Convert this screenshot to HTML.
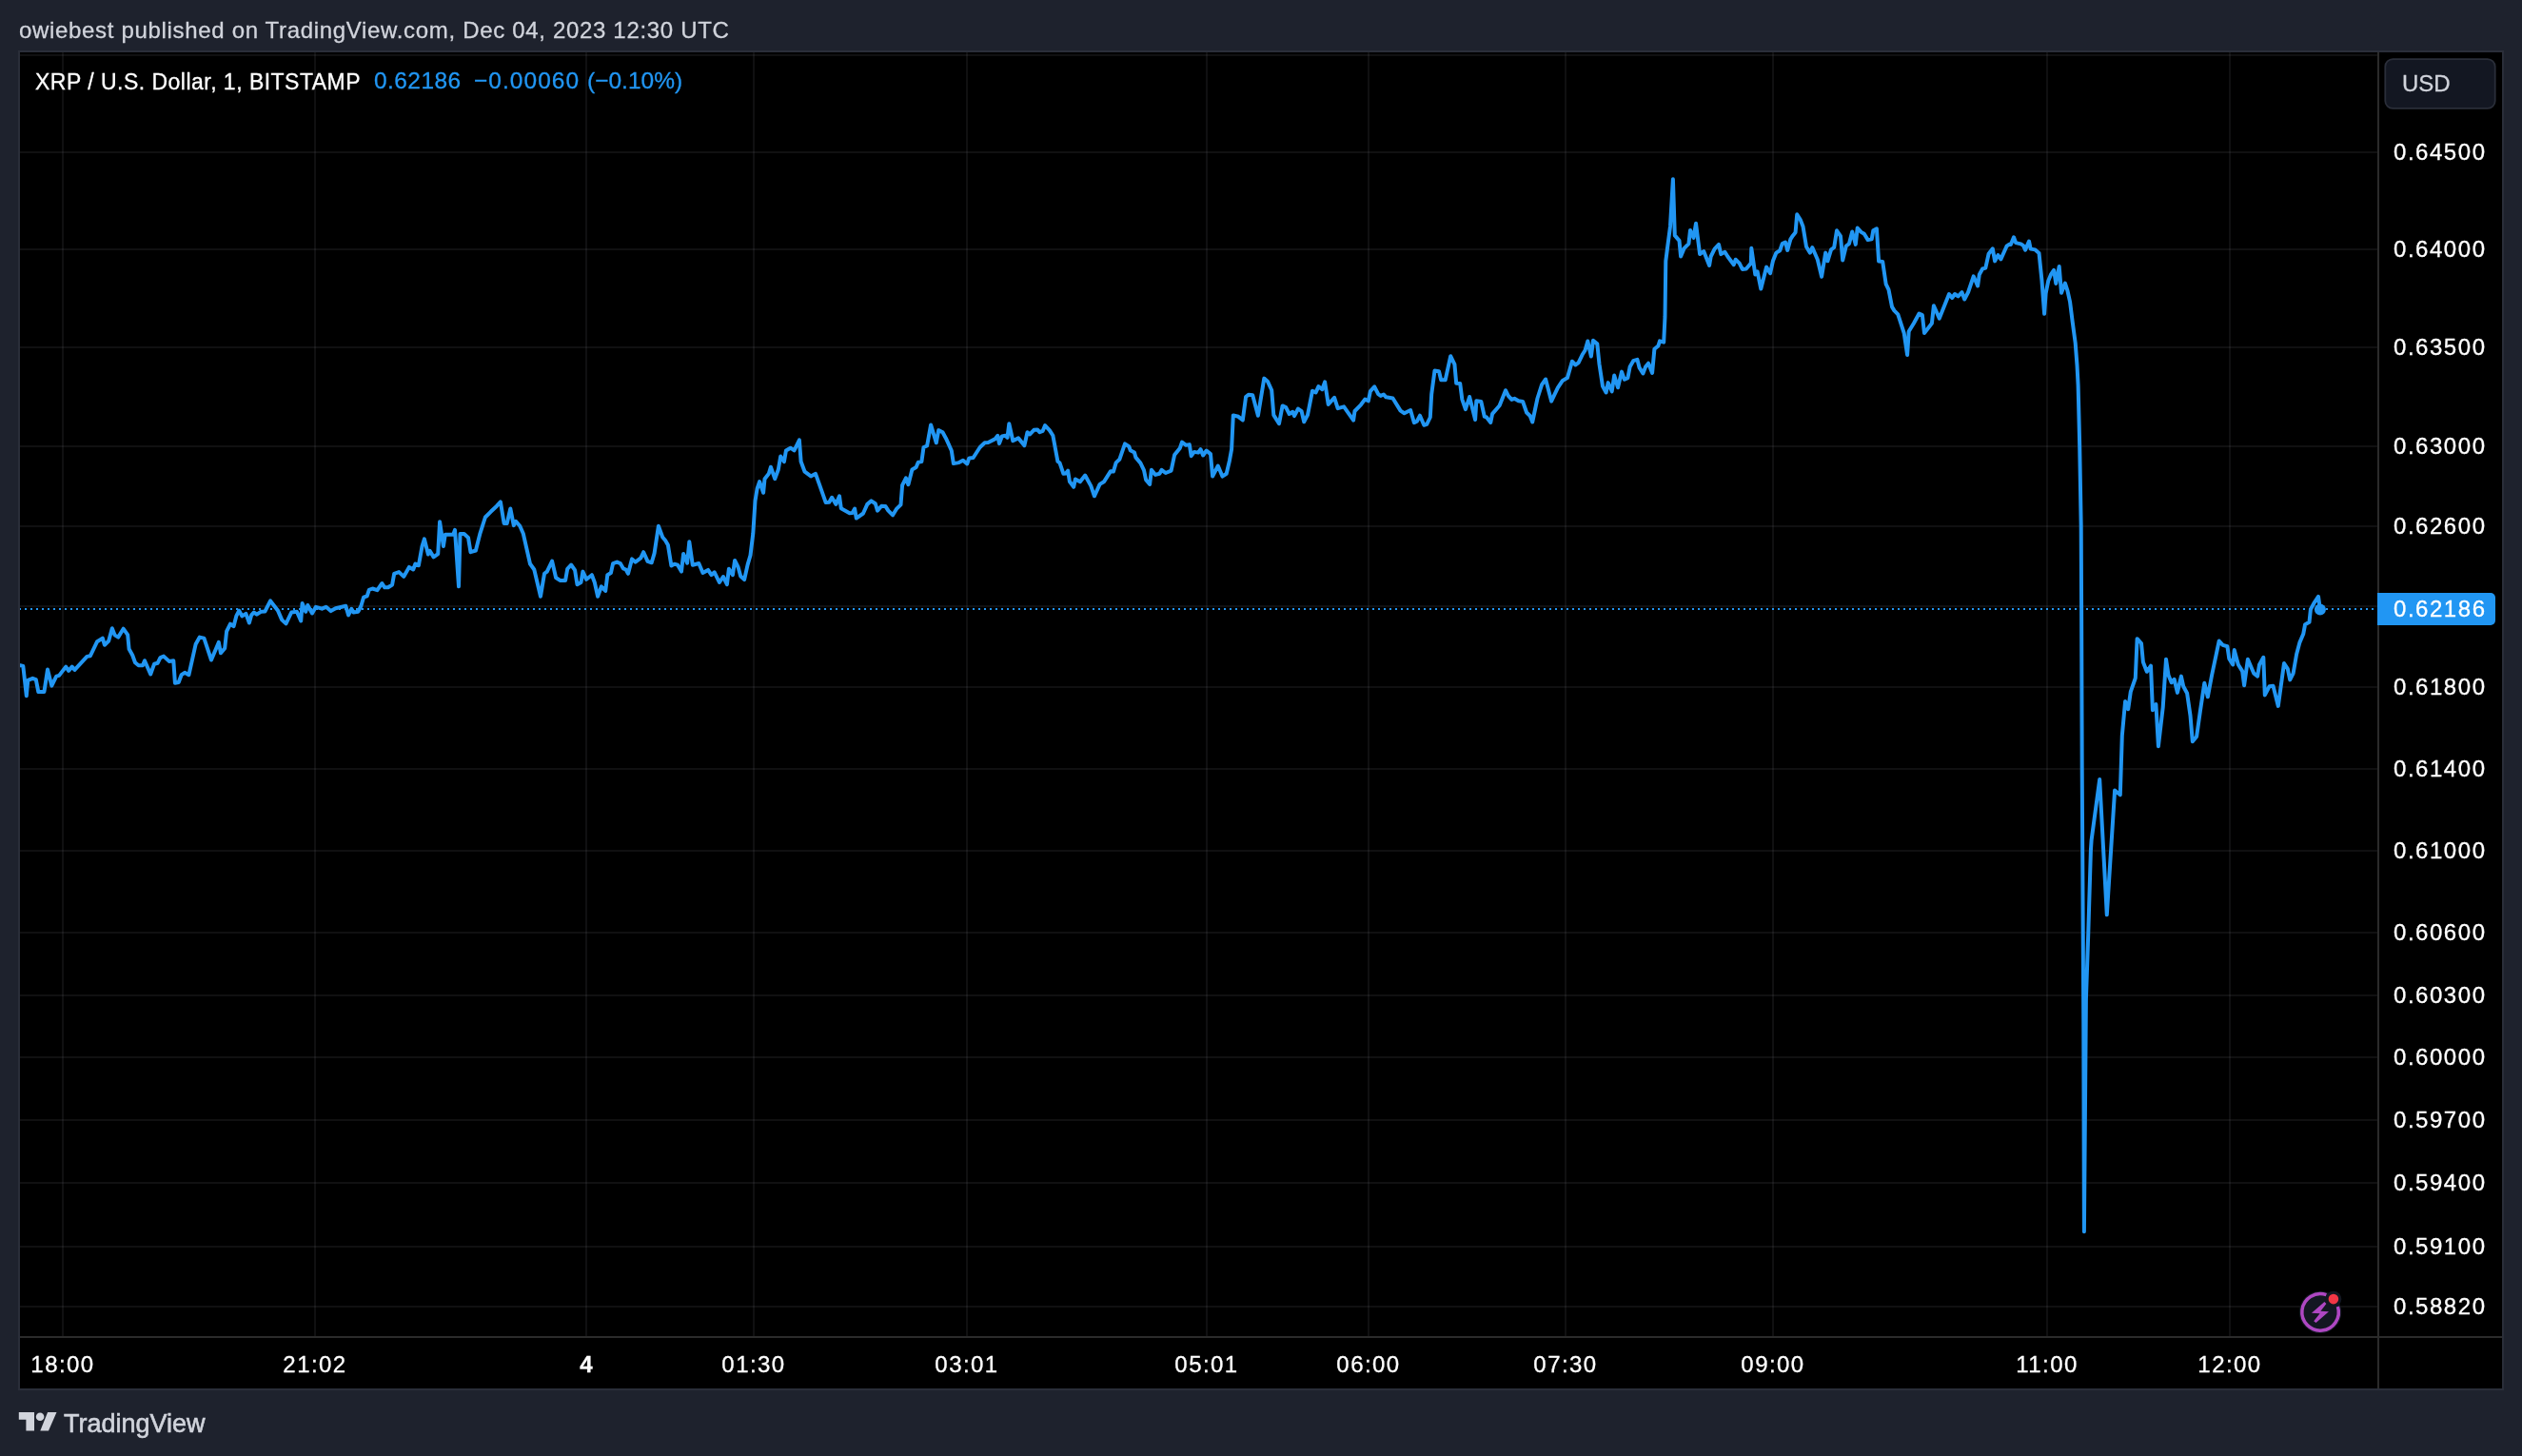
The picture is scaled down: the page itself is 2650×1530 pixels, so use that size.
<!DOCTYPE html><html><head><meta charset="utf-8"><title>XRP / U.S. Dollar</title><style>
html,body{margin:0;padding:0}body{width:2650px;height:1530px;background:#1e222d;position:relative;overflow:hidden;font-family:"Liberation Sans",sans-serif}
.t{position:absolute;white-space:nowrap;line-height:1;will-change:transform;-webkit-text-stroke:0.3px currentColor;}
</style></head><body>
<svg width="2650" height="1530" viewBox="0 0 2650 1530" style="position:absolute;left:0;top:0">
<rect x="20" y="54" width="2610" height="1406" fill="#000"/>
<rect x="21" y="159" width="2477" height="2" fill="rgba(240,243,250,0.065)"/>
<rect x="21" y="261" width="2477" height="2" fill="rgba(240,243,250,0.065)"/>
<rect x="21" y="364" width="2477" height="2" fill="rgba(240,243,250,0.065)"/>
<rect x="21" y="468" width="2477" height="2" fill="rgba(240,243,250,0.065)"/>
<rect x="21" y="552" width="2477" height="2" fill="rgba(240,243,250,0.065)"/>
<rect x="21" y="721" width="2477" height="2" fill="rgba(240,243,250,0.065)"/>
<rect x="21" y="807" width="2477" height="2" fill="rgba(240,243,250,0.065)"/>
<rect x="21" y="893" width="2477" height="2" fill="rgba(240,243,250,0.065)"/>
<rect x="21" y="979" width="2477" height="2" fill="rgba(240,243,250,0.065)"/>
<rect x="21" y="1045" width="2477" height="2" fill="rgba(240,243,250,0.065)"/>
<rect x="21" y="1110" width="2477" height="2" fill="rgba(240,243,250,0.065)"/>
<rect x="21" y="1176" width="2477" height="2" fill="rgba(240,243,250,0.065)"/>
<rect x="21" y="1242" width="2477" height="2" fill="rgba(240,243,250,0.065)"/>
<rect x="21" y="1309" width="2477" height="2" fill="rgba(240,243,250,0.065)"/>
<rect x="21" y="1372" width="2477" height="2" fill="rgba(240,243,250,0.065)"/>
<rect x="21" y="636" width="2477" height="2" fill="rgba(240,243,250,0.065)"/>
<rect x="21" y="57" width="2477" height="2" fill="rgba(240,243,250,0.065)"/>
<rect x="65" y="55" width="2" height="1349" fill="rgba(240,243,250,0.065)"/>
<rect x="330" y="55" width="2" height="1349" fill="rgba(240,243,250,0.065)"/>
<rect x="615" y="55" width="2" height="1349" fill="rgba(240,243,250,0.065)"/>
<rect x="791" y="55" width="2" height="1349" fill="rgba(240,243,250,0.065)"/>
<rect x="1015" y="55" width="2" height="1349" fill="rgba(240,243,250,0.065)"/>
<rect x="1267" y="55" width="2" height="1349" fill="rgba(240,243,250,0.065)"/>
<rect x="1437" y="55" width="2" height="1349" fill="rgba(240,243,250,0.065)"/>
<rect x="1644" y="55" width="2" height="1349" fill="rgba(240,243,250,0.065)"/>
<rect x="1862" y="55" width="2" height="1349" fill="rgba(240,243,250,0.065)"/>
<rect x="2150" y="55" width="2" height="1349" fill="rgba(240,243,250,0.065)"/>
<rect x="2342" y="55" width="2" height="1349" fill="rgba(240,243,250,0.065)"/>
<rect x="20" y="54" width="2610" height="1406" fill="none" stroke="#2a2e39" stroke-width="2"/>
<rect x="2498" y="55" width="2" height="1404" fill="#2b2b2b"/>
<rect x="21" y="1404" width="2608" height="2" fill="#2b2b2b"/>
<clipPath id="cp0"><rect x="21" y="55" width="2477" height="1349"/></clipPath>
<line x1="20" y1="640" x2="2496" y2="640" stroke="#2196f3" stroke-width="2" stroke-dasharray="2 4" clip-path="url(#cp0)"/>
<clipPath id="cp"><rect x="21" y="55" width="2477" height="1349"/></clipPath>
<path d="M21.4 699.2 L24.3 699.9 L27.8 731.3 L29.3 714.9 L34.3 712.8 L37.8 714.2 L40.3 727.0 L46.4 727.0 L50.0 703.5 L54.3 720.6 L59.2 710.6 L62.1 709.9 L69.2 700.6 L72.1 704.9 L75.7 700.6 L78.5 703.9 L91.4 689.9 L94.9 689.2 L102.1 674.2 L107.8 670.6 L109.9 677.8 L114.2 673.5 L117.8 660.2 L120.6 667.4 L124.2 669.6 L129.6 660.7 L134.2 667.1 L135.6 682.1 L139.2 688.5 L142.0 696.3 L145.6 699.2 L149.9 699.2 L152.0 694.2 L158.2 708.5 L162.0 697.8 L165.6 696.8 L168.4 691.1 L172.0 689.6 L177.7 694.9 L182.3 694.2 L183.9 717.7 L187.7 717.0 L190.6 709.2 L194.1 706.8 L198.4 709.2 L205.6 677.1 L209.8 669.6 L214.4 670.6 L222.0 693.5 L229.8 674.9 L232.0 686.3 L236.2 681.3 L238.1 663.5 L242.0 655.7 L245.5 658.2 L248.4 647.1 L251.2 641.7 L254.4 647.4 L258.4 644.9 L261.9 654.5 L264.1 646.4 L266.9 643.5 L269.8 645.7 L274.1 642.8 L278.4 642.5 L284.1 631.4 L291.9 641.4 L296.2 651.4 L300.5 655.4 L306.2 643.5 L311.9 642.8 L316.2 652.5 L317.6 634.0 L321.2 642.8 L323.3 636.0 L328.0 644.5 L331.9 637.8 L338.3 639.7 L342.6 637.8 L347.6 642.1 L352.6 639.2 L363.3 636.8 L366.1 646.4 L369.3 639.9 L371.4 643.4 L376.4 642.7 L379.3 637.0 L382.1 627.7 L385.7 626.3 L387.8 619.9 L391.4 618.5 L396.4 620.2 L401.4 613.0 L404.2 617.3 L407.8 617.3 L412.1 614.5 L414.2 602.8 L419.2 601.1 L424.2 605.9 L429.9 595.9 L434.2 598.5 L436.4 592.5 L439.9 594.2 L443.5 574.2 L445.9 566.4 L449.9 582.5 L451.6 578.8 L455.6 585.4 L460.2 582.1 L462.1 548.2 L465.9 573.9 L467.8 561.7 L476.3 561.7 L478.0 556.8 L482.0 616.3 L483.5 561.1 L487.7 561.1 L492.0 564.9 L494.5 580.2 L499.9 578.5 L504.2 561.4 L509.9 543.5 L515.6 537.8 L522.0 531.7 L525.9 527.4 L529.6 550.0 L532.7 550.0 L536.3 534.5 L539.8 552.1 L542.0 547.8 L546.3 552.8 L549.8 560.7 L557.0 592.5 L561.3 598.5 L568.0 626.7 L572.0 602.8 L574.8 600.6 L580.1 589.6 L584.1 607.0 L588.4 609.9 L594.1 609.9 L596.2 597.8 L600.1 593.5 L604.1 599.2 L606.5 614.2 L610.5 612.0 L612.4 600.6 L616.2 608.8 L621.9 604.2 L624.8 612.0 L628.1 626.7 L631.9 616.3 L636.2 621.0 L638.3 604.2 L641.9 602.1 L644.1 592.1 L648.3 590.6 L651.9 592.1 L654.8 597.3 L657.6 598.5 L660.0 602.8 L664.0 587.4 L667.6 590.6 L673.3 586.4 L676.2 580.2 L680.5 589.9 L684.7 591.3 L687.6 581.4 L691.9 552.8 L696.2 564.5 L699.0 567.8 L701.9 572.8 L705.4 594.5 L708.6 592.7 L712.1 593.7 L716.0 600.6 L718.1 582.0 L722.1 591.7 L724.3 569.2 L727.8 593.7 L734.3 592.0 L738.5 602.0 L744.0 598.9 L747.5 604.2 L750.7 601.3 L755.9 612.0 L759.9 606.0 L763.9 614.1 L765.9 597.7 L769.9 604.2 L772.1 588.9 L775.6 596.0 L778.2 605.6 L782.1 609.1 L785.6 593.4 L788.5 583.5 L791.3 560.6 L793.5 526.4 L795.6 513.5 L798.1 506.1 L802.1 517.8 L803.5 503.2 L807.8 497.8 L809.9 490.7 L814.2 503.2 L817.8 493.5 L820.2 479.5 L823.9 485.2 L825.9 473.5 L830.6 470.7 L834.5 473.3 L839.9 462.4 L841.6 485.0 L845.6 495.7 L852.0 500.4 L857.0 497.8 L867.7 528.1 L871.3 527.8 L874.1 522.8 L878.4 529.9 L882.0 521.4 L883.8 534.2 L892.7 539.2 L895.6 538.9 L898.1 534.6 L899.8 544.6 L907.0 539.5 L911.3 529.9 L915.5 526.4 L919.8 529.2 L922.0 536.6 L926.2 531.8 L930.5 532.1 L933.4 536.6 L938.1 541.3 L941.9 534.9 L946.5 530.4 L948.1 509.9 L951.9 502.4 L954.4 509.2 L958.4 493.5 L962.6 491.0 L964.8 485.7 L968.4 485.0 L970.5 470.0 L974.1 468.5 L978.1 446.4 L983.8 465.3 L986.2 452.1 L990.5 454.3 L994.0 460.7 L999.8 473.5 L1001.9 487.1 L1007.6 486.1 L1011.9 483.8 L1016.2 487.5 L1018.3 481.4 L1022.6 481.0 L1029.7 470.0 L1034.7 465.3 L1038.3 465.0 L1045.4 461.4 L1048.3 457.8 L1050.0 466.1 L1052.8 458.5 L1056.4 457.8 L1058.5 459.9 L1060.3 445.2 L1064.3 463.2 L1070.0 460.4 L1076.4 468.1 L1079.5 454.2 L1082.1 456.4 L1086.4 451.8 L1090.0 451.4 L1092.4 454.2 L1095.7 452.8 L1098.1 447.1 L1102.8 452.1 L1106.4 457.8 L1111.4 484.9 L1113.5 486.3 L1117.4 497.8 L1119.9 497.5 L1122.1 494.6 L1123.9 506.0 L1128.2 511.7 L1129.9 503.5 L1134.9 506.3 L1140.2 499.5 L1146.3 510.6 L1149.9 521.3 L1155.6 508.9 L1159.9 506.3 L1167.0 495.2 L1169.9 495.6 L1172.7 486.1 L1176.3 482.8 L1182.0 466.4 L1186.3 469.2 L1187.7 473.2 L1192.0 475.6 L1193.4 480.6 L1198.4 486.6 L1202.0 494.2 L1204.1 504.2 L1208.1 508.9 L1209.9 493.8 L1214.1 498.9 L1218.4 497.8 L1220.6 493.8 L1224.8 497.0 L1230.6 494.6 L1234.1 478.1 L1239.8 470.9 L1242.0 464.6 L1246.3 467.8 L1249.8 467.1 L1251.7 479.2 L1254.8 474.9 L1259.1 475.6 L1261.5 472.1 L1264.1 478.5 L1267.7 473.5 L1272.0 477.1 L1274.1 500.6 L1279.8 489.5 L1284.4 500.6 L1288.7 497.8 L1291.9 484.2 L1294.1 472.1 L1295.8 436.4 L1301.2 437.8 L1305.8 441.4 L1309.1 417.1 L1311.9 414.7 L1316.2 415.3 L1321.9 436.7 L1328.3 397.6 L1331.9 400.7 L1336.2 410.0 L1338.3 436.1 L1344.0 445.2 L1347.6 426.4 L1351.2 428.1 L1354.7 435.0 L1358.3 432.8 L1360.0 437.1 L1364.0 429.5 L1367.6 432.1 L1370.2 443.2 L1374.0 436.1 L1379.0 410.7 L1382.6 412.4 L1385.4 406.1 L1389.3 409.2 L1392.1 401.3 L1395.7 424.9 L1402.1 417.8 L1405.7 429.2 L1412.1 427.3 L1422.1 441.6 L1423.5 432.0 L1430.0 425.3 L1434.2 419.6 L1437.8 421.3 L1439.9 411.1 L1444.2 406.3 L1448.2 414.2 L1450.7 415.9 L1453.9 414.5 L1456.4 417.3 L1463.5 418.5 L1471.6 431.6 L1475.6 434.2 L1482.1 431.0 L1485.9 444.2 L1488.8 442.7 L1492.0 436.7 L1496.3 446.7 L1499.2 445.9 L1502.8 438.5 L1504.2 414.2 L1507.5 389.6 L1512.0 390.2 L1514.2 399.2 L1518.7 399.2 L1524.2 374.2 L1528.4 382.8 L1530.2 402.8 L1534.2 403.1 L1536.3 419.6 L1539.9 430.2 L1544.1 417.0 L1550.1 441.0 L1551.3 421.3 L1556.3 422.0 L1559.8 437.7 L1562.0 438.5 L1566.3 443.9 L1568.1 434.9 L1575.6 426.3 L1582.0 410.2 L1584.8 415.9 L1588.4 419.9 L1591.3 418.8 L1595.5 421.3 L1600.1 422.0 L1604.1 433.5 L1607.7 437.0 L1610.2 443.5 L1615.5 418.5 L1620.1 404.2 L1624.1 398.5 L1630.1 421.6 L1636.9 407.3 L1641.9 399.9 L1646.9 397.1 L1651.9 379.7 L1655.5 383.5 L1658.6 381.1 L1662.6 372.8 L1665.5 368.2 L1668.3 358.5 L1671.9 374.5 L1674.0 357.8 L1678.3 361.4 L1680.5 382.8 L1684.0 405.9 L1687.6 412.5 L1689.7 402.1 L1693.7 411.3 L1696.2 394.5 L1700.0 407.3 L1704.0 390.6 L1706.9 398.8 L1710.4 397.1 L1712.6 385.6 L1716.2 379.2 L1720.4 377.8 L1722.6 386.4 L1726.4 392.5 L1729.0 385.6 L1732.1 381.7 L1736.1 391.9 L1738.4 366.7 L1742.4 363.5 L1744.0 358.3 L1748.2 359.6 L1749.5 332.7 L1750.3 274.3 L1752.3 258.5 L1755.0 237.9 L1757.9 188.2 L1759.8 247.4 L1764.5 252.9 L1766.1 269.5 L1769.7 260.8 L1774.4 256.1 L1776.0 241.9 L1779.5 249.8 L1782.0 234.8 L1786.1 267.1 L1790.2 264.0 L1796.1 279.0 L1797.7 269.5 L1801.6 261.6 L1806.0 256.9 L1808.3 267.1 L1812.4 264.8 L1815.5 269.8 L1821.8 278.2 L1823.7 272.7 L1827.7 276.6 L1830.8 282.9 L1834.8 282.5 L1839.8 276.6 L1840.3 260.8 L1844.3 288.5 L1846.6 285.3 L1850.3 303.5 L1856.1 280.6 L1860.1 287.2 L1862.9 274.3 L1866.4 265.6 L1870.3 263.2 L1872.7 256.1 L1875.9 254.5 L1878.2 262.9 L1881.4 251.4 L1883.8 247.7 L1886.6 244.2 L1888.2 225.3 L1891.7 230.8 L1894.5 237.9 L1898.0 259.2 L1901.9 265.6 L1904.3 260.0 L1909.8 272.7 L1914.1 290.8 L1918.2 265.6 L1920.4 274.3 L1924.0 262.4 L1927.2 260.0 L1930.0 242.3 L1934.0 248.2 L1936.2 273.5 L1939.8 258.5 L1943.0 256.1 L1946.2 243.5 L1949.8 256.9 L1951.7 239.5 L1955.6 243.9 L1958.8 245.8 L1962.7 252.1 L1966.7 251.4 L1968.3 242.3 L1971.9 240.3 L1974.1 274.6 L1978.2 275.0 L1981.7 298.7 L1984.5 304.3 L1988.0 322.4 L1990.4 326.4 L1994.3 330.3 L2000.7 350.1 L2004.1 373.0 L2005.7 348.2 L2010.9 339.8 L2016.5 329.5 L2019.9 331.1 L2022.0 350.1 L2029.9 339.8 L2031.9 321.3 L2037.8 334.6 L2048.0 309.0 L2051.2 313.0 L2054.0 309.0 L2057.5 311.4 L2061.5 307.1 L2064.2 314.5 L2068.1 307.0 L2073.7 290.3 L2078.1 300.5 L2079.8 288.5 L2083.1 282.5 L2086.3 281.6 L2089.6 266.8 L2093.8 261.3 L2096.1 274.4 L2099.4 268.1 L2102.4 272.4 L2108.5 258.7 L2111.1 256.8 L2112.8 257.1 L2116.0 249.3 L2118.1 255.1 L2123.5 256.4 L2126.1 258.1 L2128.1 262.6 L2132.0 253.5 L2133.7 261.6 L2138.5 262.4 L2142.5 265.9 L2145.5 295.3 L2148.1 329.8 L2149.6 308.3 L2152.2 295.3 L2154.9 288.7 L2158.1 283.8 L2160.3 297.9 L2163.7 279.9 L2166.0 307.7 L2169.9 297.6 L2172.5 305.7 L2175.1 317.4 L2177.7 338.3 L2180.7 360.5 L2182.5 384.0 L2183.6 404.9 L2184.0 420.0 L2185.2 468.6 L2186.7 553.0 L2187.1 640.0 L2187.7 808.0 L2189.3 1080.0 L2189.9 1294.3 L2191.9 1050.0 L2194.3 979.8 L2196.9 893.7 L2197.6 883.0 L2206.2 819.1 L2213.8 961.3 L2222.1 830.5 L2227.8 835.2 L2229.8 773.1 L2233.1 736.9 L2236.2 745.2 L2238.8 726.9 L2243.8 712.5 L2245.6 671.2 L2250.0 676.0 L2251.9 695.8 L2255.8 705.8 L2260.0 699.6 L2261.9 746.2 L2265.4 740.0 L2267.9 784.2 L2272.7 743.3 L2276.0 692.7 L2278.5 709.6 L2281.7 717.3 L2284.6 713.8 L2287.9 727.9 L2291.9 710.6 L2294.2 721.2 L2298.1 728.5 L2301.5 751.9 L2303.8 779.2 L2308.1 774.0 L2311.9 747.1 L2316.3 717.7 L2319.8 732.3 L2324.0 710.0 L2331.7 673.5 L2335.6 677.9 L2340.4 679.2 L2342.3 692.3 L2346.2 698.5 L2347.7 683.1 L2351.9 698.5 L2356.2 705.4 L2358.1 720.2 L2361.9 692.7 L2368.3 707.7 L2372.1 710.6 L2374.0 698.5 L2378.3 690.8 L2379.8 730.4 L2384.6 721.2 L2388.5 720.8 L2393.8 741.9 L2400.0 697.1 L2403.8 702.9 L2406.2 714.4 L2409.6 707.7 L2413.1 687.5 L2416.3 675.4 L2420.2 666.3 L2422.1 656.2 L2426.5 653.8 L2427.9 640.4 L2431.2 634.2 L2436.0 626.9 L2437.9 640.4" fill="none" stroke="#2196f3" stroke-width="4" stroke-linejoin="round" stroke-linecap="round" clip-path="url(#cp)"/>
<circle cx="2437.9" cy="640.4" r="6" fill="#2196f3"/>
<path d="M2498 623 H2617 a5 5 0 0 1 5 5 V652 a5 5 0 0 1 -5 5 H2498 Z" fill="#2196f3"/>
<rect x="2506.3" y="62.1" width="115.4" height="51.8" rx="8" fill="#131722" stroke="#2a2e39" stroke-width="1.8"/>
<g id="bolt"><circle cx="2438.1" cy="1378.9" r="22.2" fill="#131722"/><path d="M2444.4 1360.7 A19.25 19.25 0 1 0 2456.4 1373" fill="none" stroke="#ae47c2" stroke-width="3.5"/><circle cx="2451.9" cy="1365.1" r="8.4" fill="#131722"/><circle cx="2451.9" cy="1365.1" r="5.3" fill="#f23645"/><path d="M2442.4 1368.1 L2444.4 1369.9 L2438.4 1377.8 L2447 1378.2 L2433.5 1390 L2431.2 1388.3 L2437.6 1380.3 L2428.9 1379.7 Z" fill="#ae47c2"/></g>
<g id="tvlogo" fill="#d1d4dc"><path d="M19.8 1484.1 H36 V1503.6 H27.4 V1491.8 H19.8 Z"/><circle cx="42.1" cy="1488.7" r="4.3"/><path d="M50.1 1484.1 H59.5 L51 1503.6 H42.3 Z"/></g>
</svg>
<div class="t" id="hdr" style="left:20px;top:20.3px;font-size:24px;color:#d1d4dc;letter-spacing:0.675px;font-weight:normal;">owiebest published on TradingView.com, Dec 04, 2023 12:30 UTC</div>
<div class="t" id="lg1" style="left:36.7px;top:74.8px;font-size:23px;color:#ffffff;letter-spacing:0.48px;font-weight:normal;">XRP / U.S. Dollar, 1, BITSTAMP</div>
<div class="t" id="lg2" style="left:392.8px;top:73.3px;font-size:24.5px;color:#2196f3;letter-spacing:0.43px;font-weight:normal;">0.62186</div>
<div class="t" id="lg3" style="left:497.7px;top:73.3px;font-size:24.5px;color:#2196f3;letter-spacing:1.03px;font-weight:normal;">&minus;0.00060</div>
<div class="t" id="lg4" style="left:616.8px;top:73.3px;font-size:24.5px;color:#2196f3;letter-spacing:0px;font-weight:normal;">(&minus;0.10%)</div>
<div class="t" id="usd" style="left:2524.1px;top:75.8px;font-size:24px;color:#d1d4dc;letter-spacing:0px;font-weight:normal;">USD</div>
<div class="t pl" style="left:2514.8px;top:147.8px;font-size:24px;color:#ffffff;letter-spacing:1.54px;font-weight:normal;">0.64500</div>
<div class="t pl" style="left:2514.8px;top:249.8px;font-size:24px;color:#ffffff;letter-spacing:1.54px;font-weight:normal;">0.64000</div>
<div class="t pl" style="left:2514.8px;top:352.8px;font-size:24px;color:#ffffff;letter-spacing:1.54px;font-weight:normal;">0.63500</div>
<div class="t pl" style="left:2514.8px;top:456.8px;font-size:24px;color:#ffffff;letter-spacing:1.54px;font-weight:normal;">0.63000</div>
<div class="t pl" style="left:2514.8px;top:540.8px;font-size:24px;color:#ffffff;letter-spacing:1.54px;font-weight:normal;">0.62600</div>
<div class="t pl" style="left:2514.8px;top:709.8px;font-size:24px;color:#ffffff;letter-spacing:1.54px;font-weight:normal;">0.61800</div>
<div class="t pl" style="left:2514.8px;top:795.8px;font-size:24px;color:#ffffff;letter-spacing:1.54px;font-weight:normal;">0.61400</div>
<div class="t pl" style="left:2514.8px;top:881.8px;font-size:24px;color:#ffffff;letter-spacing:1.54px;font-weight:normal;">0.61000</div>
<div class="t pl" style="left:2514.8px;top:967.8px;font-size:24px;color:#ffffff;letter-spacing:1.54px;font-weight:normal;">0.60600</div>
<div class="t pl" style="left:2514.8px;top:1033.8px;font-size:24px;color:#ffffff;letter-spacing:1.54px;font-weight:normal;">0.60300</div>
<div class="t pl" style="left:2514.8px;top:1098.8px;font-size:24px;color:#ffffff;letter-spacing:1.54px;font-weight:normal;">0.60000</div>
<div class="t pl" style="left:2514.8px;top:1164.8px;font-size:24px;color:#ffffff;letter-spacing:1.54px;font-weight:normal;">0.59700</div>
<div class="t pl" style="left:2514.8px;top:1230.8px;font-size:24px;color:#ffffff;letter-spacing:1.54px;font-weight:normal;">0.59400</div>
<div class="t pl" style="left:2514.8px;top:1297.8px;font-size:24px;color:#ffffff;letter-spacing:1.54px;font-weight:normal;">0.59100</div>
<div class="t pl" style="left:2514.8px;top:1360.8px;font-size:24px;color:#ffffff;letter-spacing:1.54px;font-weight:normal;">0.58820</div>
<div class="t" id="cur" style="left:2514.8px;top:627.8px;font-size:24px;color:#ffffff;letter-spacing:1.54px;font-weight:normal;">0.62186</div>
<div class="t tl" style="left:66.4px;top:1421.8px;font-size:24px;color:#ffffff;letter-spacing:1.45px;font-weight:normal;transform:translateX(-50%);">18:00</div>
<div class="t tl" style="left:331.4px;top:1421.8px;font-size:24px;color:#ffffff;letter-spacing:1.45px;font-weight:normal;transform:translateX(-50%);">21:02</div>
<div class="t" style="left:616px;top:1421.8px;font-size:24px;color:#ffffff;letter-spacing:0px;font-weight:bold;transform:translateX(-50%);">4</div>
<div class="t tl" style="left:792.4px;top:1421.8px;font-size:24px;color:#ffffff;letter-spacing:1.45px;font-weight:normal;transform:translateX(-50%);">01:30</div>
<div class="t tl" style="left:1016.4px;top:1421.8px;font-size:24px;color:#ffffff;letter-spacing:1.45px;font-weight:normal;transform:translateX(-50%);">03:01</div>
<div class="t tl" style="left:1268.4px;top:1421.8px;font-size:24px;color:#ffffff;letter-spacing:1.45px;font-weight:normal;transform:translateX(-50%);">05:01</div>
<div class="t tl" style="left:1438.4px;top:1421.8px;font-size:24px;color:#ffffff;letter-spacing:1.45px;font-weight:normal;transform:translateX(-50%);">06:00</div>
<div class="t tl" style="left:1645.4px;top:1421.8px;font-size:24px;color:#ffffff;letter-spacing:1.45px;font-weight:normal;transform:translateX(-50%);">07:30</div>
<div class="t tl" style="left:1863.4px;top:1421.8px;font-size:24px;color:#ffffff;letter-spacing:1.45px;font-weight:normal;transform:translateX(-50%);">09:00</div>
<div class="t tl" style="left:2151.4px;top:1421.8px;font-size:24px;color:#ffffff;letter-spacing:1.45px;font-weight:normal;transform:translateX(-50%);">11:00</div>
<div class="t tl" style="left:2343.4px;top:1421.8px;font-size:24px;color:#ffffff;letter-spacing:1.45px;font-weight:normal;transform:translateX(-50%);">12:00</div>
<div class="t" id="tv" style="left:66.5px;top:1483.4px;font-size:27px;color:#d1d4dc;letter-spacing:0px;font-weight:normal;-webkit-text-stroke:0.6px currentColor;">TradingView</div>
</body></html>
